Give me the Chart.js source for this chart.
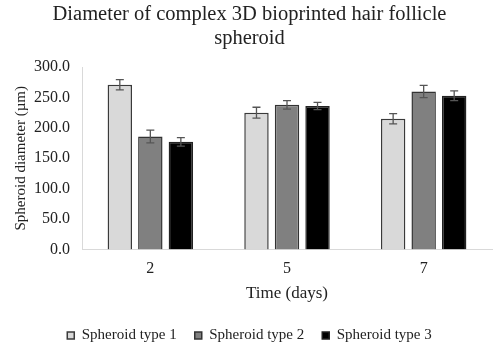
<!DOCTYPE html>
<html>
<head>
<meta charset="utf-8">
<script src="https://cdn.jsdelivr.net/npm/chart.js@4/dist/chart.umd.min.js"></script>
<style>
  html, body { margin: 0; padding: 0; background: #fff; }
  #wrap { width: 500px; height: 343px; }
</style>
</head>
<body>
<div id="wrap"><canvas id="spheroidChart"></canvas></div>
<script>
var days = ['2', '5', '7'];
var type1 = [271, 225, 215];
var type2 = [186, 238, 260];
var type3 = [177, 236, 253];
var type1Err = [8.5, 9, 8.5];
var type2Err = [10.5, 7, 10];
var type3Err = [7, 6, 8];

var serif = "'Liberation Serif', 'Times New Roman', serif";
var textColor = '#222';

// error bars drawn on top of each bar
const errorBars = {
  id: 'errorBars',
  afterDatasetsDraw(chart) {
    const ctx = chart.ctx;
    const yScale = chart.scales.y;
    ctx.save();
    ctx.strokeStyle = '#555';
    ctx.lineWidth = 1.3;
    chart.data.datasets.forEach((ds, i) => {
      const meta = chart.getDatasetMeta(i);
      meta.data.forEach((bar, j) => {
        const v = ds.data[j], e = ds.errors[j];
        const top = yScale.getPixelForValue(v + e);
        const bot = yScale.getPixelForValue(v - e);
        ctx.beginPath();
        ctx.moveTo(bar.x, top); ctx.lineTo(bar.x, bot);
        ctx.moveTo(bar.x - 4, top); ctx.lineTo(bar.x + 4, top);
        ctx.moveTo(bar.x - 4, bot); ctx.lineTo(bar.x + 4, bot);
        ctx.stroke();
      });
    });
    ctx.restore();
  }
};

var ctxS = document.getElementById('spheroidChart');
var spheroidChart = new Chart(ctxS, {
  type: 'bar',
  data: {
    labels: days,
    datasets: [
      {
        label: 'Spheroid type 1',
        data: type1,
        errors: type1Err,
        backgroundColor: '#d9d9d9',
        borderColor: '#3a3a3a',
        borderWidth: 1.5,
      },
      {
        label: 'Spheroid type 2',
        data: type2,
        errors: type2Err,
        backgroundColor: '#808080',
        borderColor: '#333',
        borderWidth: 1.5,
      },
      {
        label: 'Spheroid type 3',
        data: type3,
        errors: type3Err,
        backgroundColor: '#000',
        borderColor: '#222',
        borderWidth: 1.5,
      },
    ],
  },
  plugins: [errorBars],
  options: {
    responsive: true,
    maintainAspectRatio: false,
    animation: false,
    categoryPercentage: 0.67,
    barPercentage: 0.8,
    layout: {
      padding: { left: 7, right: 8, top: 0, bottom: -10 }
    },
    plugins: {
      title: {
        display: true,
        text: ['Diameter of complex 3D bioprinted hair follicle', 'spheroid'],
        color: textColor,
        font: { family: serif, size: 20.5, weight: 'normal', lineHeight: 1.15 },
        padding: { top: 3, bottom: 17 }
      },
      legend: {
        position: 'bottom',
        labels: {
          color: textColor,
          font: { family: serif, size: 15 },
          boxWidth: 7,
          boxHeight: 7,
          padding: 18
        }
      },
      tooltip: { enabled: false }
    },
    scales: {
      x: {
        grid: { display: false, drawTicks: false },
        border: { display: true, color: '#d9d9d9' },
        ticks: { color: textColor, font: { family: serif, size: 16 }, padding: 10 },
        title: {
          display: true,
          text: 'Time (days)',
          color: textColor,
          font: { family: serif, size: 17 },
          padding: { top: -5, bottom: 6 }
        }
      },
      y: {
        min: 0,
        max: 300,
        grid: { display: false, drawTicks: false },
        border: { display: true, color: '#d9d9d9' },
        ticks: {
          stepSize: 50,
          color: textColor,
          font: { family: serif, size: 16 },
          padding: 12,
          callback: (v) => v.toFixed(1)
        },
        title: {
          display: true,
          text: 'Spheroid diameter (µm)',
          color: textColor,
          font: { family: serif, size: 15 },
          padding: { top: 5, bottom: -8 }
        }
      }
    }
  }
});
</script>
</body>
</html>
